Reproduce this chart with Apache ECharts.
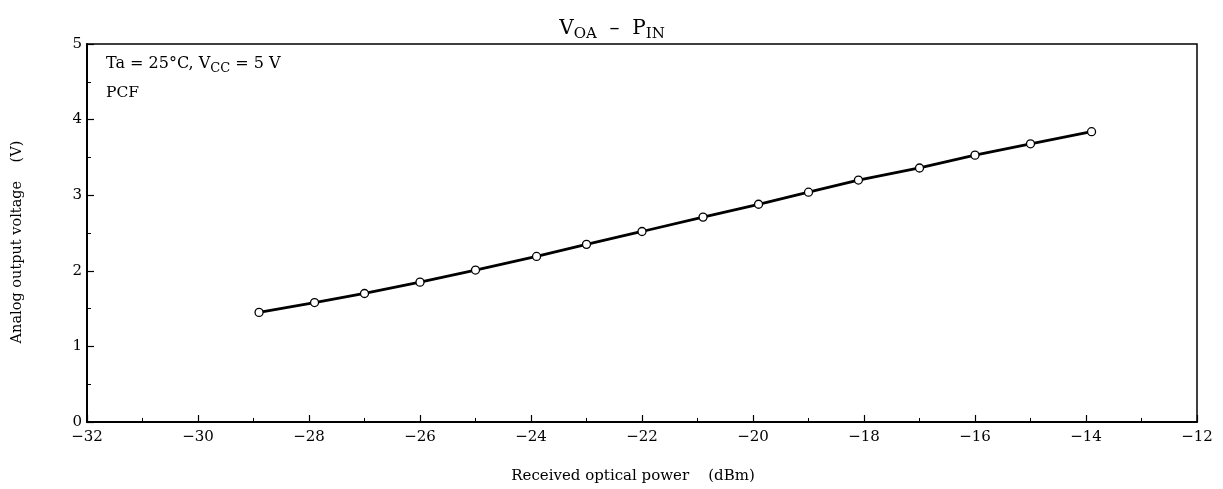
<!DOCTYPE html>
<html>
<head>
<meta charset="utf-8">
<script src="https://cdn.jsdelivr.net/npm/echarts@6/dist/echarts.min.js"></script>
<style>
html,body{margin:0;padding:0;background:#fff;}
#c{width:1223px;height:489px;}
</style>
</head>
<body>
<div id="c"></div>
<script>
// Received optical power (dBm)
const powerDbm = [-28.9, -27.9, -27.0, -26.0, -25.0, -23.9, -23.0, -22.0, -20.9, -19.9, -19.0, -18.1, -17.0, -16.0, -15.0, -13.9];
// Analog output voltage (V)
const voltageV = [1.45, 1.58, 1.70, 1.85, 2.01, 2.19, 2.35, 2.52, 2.71, 2.88, 3.04, 3.20, 3.36, 3.53, 3.68, 3.84];
const xTicks = [-32, -30, -28, -26, -24, -22, -20, -18, -16, -14, -12];
const yTicks = [0, 1, 2, 3, 4, 5];

const FONT = '"DejaVu Serif", "Liberation Serif", serif';
const fmtNeg = v => (v < 0 ? '\u2212' + Math.abs(v) : String(v));

const chart = echarts.init(document.getElementById('c'), null, {renderer: 'canvas'});
chart.setOption({
  animation: false,
  backgroundColor: '#fff',
  title: {
    text: '{a|V}{b|OA}{a|  \u2013  P}{b|IN}',
    left: 607, top: 6, textAlign: 'center',
    textStyle: {
      fontWeight: 'normal',
      rich: {
        a: {fontFamily: FONT, fontSize: 20, fontWeight: 'normal', color: '#000', lineHeight: 28, verticalAlign: 'bottom'},
        b: {fontFamily: FONT, fontSize: 15, fontWeight: 'normal', color: '#000', lineHeight: 28, verticalAlign: 'bottom', padding: [0, 0, -3, 0]}
      }
    }
  },
  grid: {left: 87, right: 26, top: 44, bottom: 67, show: true, borderColor: '#000', borderWidth: 1.5},
  xAxis: {
    type: 'value', min: xTicks[0], max: xTicks[xTicks.length - 1], interval: 2,
    name: 'Received optical power    (dBm)', nameLocation: 'middle', nameGap: 47,
    nameTextStyle: {fontFamily: FONT, fontSize: 15, color: '#000', padding: [0, 18, 0, 0]},
    axisLine: {show: true, onZero: false, lineStyle: {color: '#000', width: 2}},
    axisTick: {show: true, inside: true, length: 7, lineStyle: {color: '#000', width: 1.2}},
    minorTick: {show: true, splitNumber: 2, length: 4, lineStyle: {color: '#000', width: 1}},
    splitLine: {show: false},
    axisLabel: {fontFamily: FONT, fontSize: 15, color: '#000', margin: 8, formatter: fmtNeg}
  },
  yAxis: {
    type: 'value', min: yTicks[0], max: yTicks[yTicks.length - 1], interval: 1,
    name: 'Analog output voltage    (V)', nameLocation: 'middle', nameGap: 62, nameRotate: 90,
    nameTextStyle: {fontFamily: FONT, fontSize: 14.5, color: '#000', padding: [0, 18, 0, 0]},
    axisLine: {show: true, onZero: false, lineStyle: {color: '#000', width: 2}},
    axisTick: {show: true, inside: true, length: 7, lineStyle: {color: '#000', width: 1.2}},
    minorTick: {show: true, splitNumber: 2, length: 4, lineStyle: {color: '#000', width: 1}},
    splitLine: {show: false},
    axisLabel: {fontFamily: FONT, fontSize: 15, color: '#000', margin: 5, formatter: fmtNeg}
  },
  graphic: [
    {
      type: 'text', left: 106, top: 56,
      style: {
        text: '{a|Ta = 25\u00B0C, V}{b|CC}{a| = 5 V}',
        rich: {
          a: {fontFamily: FONT, fontSize: 16, fill: '#000', lineHeight: 21, verticalAlign: 'bottom'},
          b: {fontFamily: FONT, fontSize: 13, fill: '#000', lineHeight: 21, verticalAlign: 'bottom', padding: [0, 0, -3, 0]}
        }
      }
    },
    {
      type: 'text', left: 106, top: 85,
      style: {text: 'PCF', fontFamily: FONT, fontSize: 15.5, fill: '#000'}
    }
  ],
  series: [{
    type: 'line',
    data: powerDbm.map((x, i) => [x, voltageV[i]]),
    symbol: 'circle', symbolSize: 8,
    lineStyle: {color: '#000', width: 2.8},
    itemStyle: {color: '#fff', borderColor: '#000', borderWidth: 1.3},
    z: 3
  }]
});
</script>
</body>
</html>
